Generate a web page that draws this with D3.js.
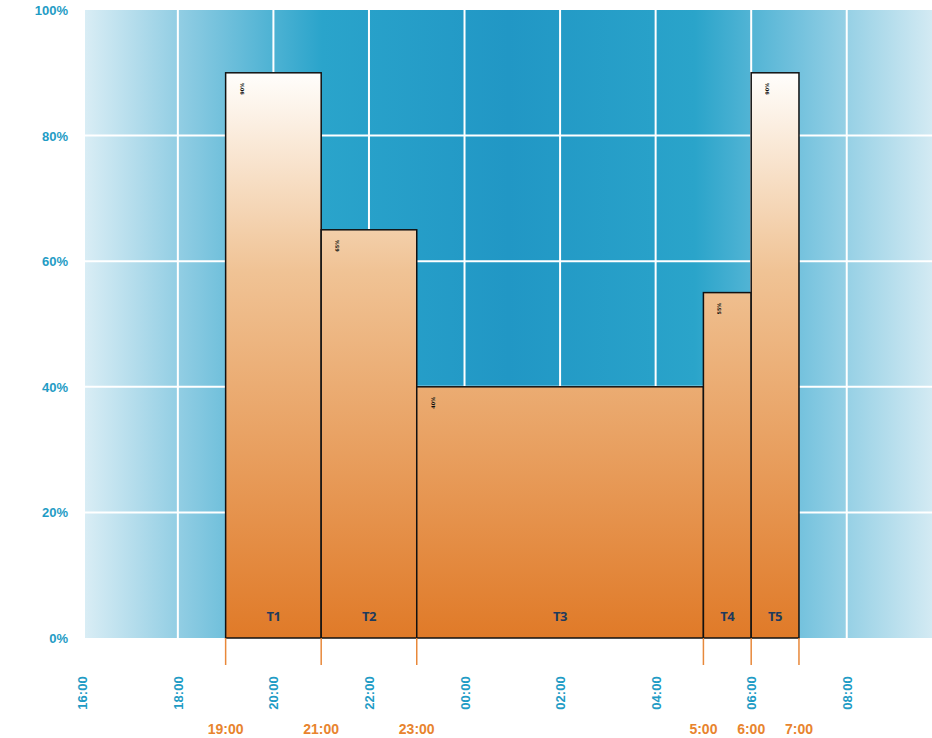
<!DOCTYPE html>
<html>
<head>
<meta charset="utf-8">
<script src="https://cdn.jsdelivr.net/npm/d3@7"></script>
<style>
	body { margin: 0; background: #fff; }
	svg { display: block; }
</style>
</head>
<body>
<div id="chart"></div>
<script>
"use strict";

// chart data
var periods = ["T1", "T2", "T3", "T4", "T5"];
var startTimes = ["19:00", "21:00", "23:00", "5:00", "6:00"];
var endTimes = ["21:00", "23:00", "5:00", "6:00", "7:00"];
var values = [0.90, 0.65, 0.40, 0.55, 0.90];
var hourTicks = ["16:00", "18:00", "20:00", "22:00", "00:00", "02:00", "04:00", "06:00", "08:00"];
var boundaryLabels = ["19:00", "21:00", "23:00", "5:00", "6:00", "7:00"];
var yTicks = [0, 0.2, 0.4, 0.6, 0.8, 1.0];

var width = 932, height = 738;
var plot = {left: 85, right: 932, top: 10, bottom: 638};

// times before 12:00 belong to the next day
function toDate(s) {
	var p = s.split(":").map(Number);
	var day = p[0] < 12 ? 2 : 1;
	return new Date(2020, 0, day, p[0], p[1]);
}

var svg = d3.select("#chart").append("svg")
	.attr("width", width)
	.attr("height", height);

// 16:00 sits just left of the plot edge, the right edge runs past 9:45
var x = d3.scaleTime()
	.domain([toDate("16:00"), toDate("10:00")])
	.range([82.3, 942.3]);

var y = d3.scaleLinear()
	.domain([0, 1])
	.range([plot.bottom, plot.top]);

var defs = svg.append("defs");

// background gradient, light at the edges
var bg = defs.append("linearGradient")
	.attr("id", "bgGrad")
	.attr("x1", "0").attr("x2", "1").attr("y1", "0").attr("y2", "0");
[[0, "#d9edf5"], [0.12, "#8ccbe2"], [0.28, "#2aa4cb"], [0.5, "#2197c5"], [0.72, "#2aa4ca"], [0.84, "#72c1dd"], [1, "#d3eaf3"]]
	.forEach(function (s) {
		bg.append("stop").attr("offset", s[0]).attr("stop-color", s[1]);
	});

// bar gradient in user space: white at the top, orange at the base
var barGrad = defs.append("linearGradient")
	.attr("id", "barGrad")
	.attr("gradientUnits", "userSpaceOnUse")
	.attr("x1", 0).attr("x2", 0)
	.attr("y1", y(0.9)).attr("y2", y(0));
barGrad.append("stop").attr("offset", 0).attr("stop-color", "#fffefc");
barGrad.append("stop").attr("offset", 0.35).attr("stop-color", "#f0c395");
barGrad.append("stop").attr("offset", 1).attr("stop-color", "#e07a28");

svg.append("rect")
	.attr("x", plot.left)
	.attr("y", plot.top)
	.attr("width", plot.right - plot.left)
	.attr("height", plot.bottom - plot.top)
	.style("fill", "url(#bgGrad)");

// grid lines
svg.append("g").selectAll("line").data(yTicks.slice(1, -1))
	.enter().append("line")
	.attr("x1", plot.left).attr("x2", plot.right)
	.attr("y1", d => y(d)).attr("y2", d => y(d))
	.style("stroke", "white").style("stroke-width", 2);

svg.append("g").selectAll("line").data(hourTicks.slice(1))
	.enter().append("line")
	.attr("x1", d => x(toDate(d))).attr("x2", d => x(toDate(d)))
	.attr("y1", plot.top).attr("y2", plot.bottom)
	.style("stroke", "white").style("stroke-width", 2);

// y axis labels
svg.append("g").selectAll("text").data(yTicks)
	.enter().append("text")
	.attr("x", 68)
	.attr("y", d => y(d) + 5)
	.style("text-anchor", "end")
	.style("font-family", "Liberation Sans")
	.style("font-weight", "bold")
	.style("font-size", "13px")
	.style("fill", "#1f9cc5")
	.text(d => d3.format(".0%")(d));

// bars
var bars = svg.append("g").selectAll("g").data(periods)
	.enter().append("g");

bars.append("rect")
	.attr("x", (d, i) => x(toDate(startTimes[i])))
	.attr("y", (d, i) => y(values[i]))
	.attr("width", (d, i) => x(toDate(endTimes[i])) - x(toDate(startTimes[i])))
	.attr("height", (d, i) => y(0) - y(values[i]))
	.style("fill", "url(#barGrad)")
	.style("stroke", "#111")
	.style("stroke-width", 1.5);

bars.append("text")
	.attr("x", (d, i) => (x(toDate(startTimes[i])) + x(toDate(endTimes[i]))) / 2)
	.attr("y", y(0) - 17)
	.style("text-anchor", "middle")
	.style("font-family", "Open Sans")
	.style("font-weight", "bold")
	.style("font-size", "13px")
	.style("letter-spacing", "-0.5px")
	.style("fill", "#1e3a5c")
	.text(d => d);

// small value labels at the top left of each bar
bars.append("text")
	.attr("transform", (d, i) => "translate(" + (x(toDate(startTimes[i])) + 18) + "," + (y(values[i]) + 16) + ") rotate(-90)")
	.style("text-anchor", "middle")
	.style("font-family", "DejaVu Sans")
	.style("font-weight", "bold")
	.style("font-size", "5px")
	.style("fill", "#111")
	.text((d, i) => d3.format(".0%")(values[i]));

// boundary ticks and labels
svg.append("g").selectAll("line").data(boundaryLabels)
	.enter().append("line")
	.attr("x1", d => x(toDate(d))).attr("x2", d => x(toDate(d)))
	.attr("y1", y(0)).attr("y2", y(0) + 27)
	.style("stroke", "#e8883a").style("stroke-width", 1.5);

svg.append("g").selectAll("text").data(boundaryLabels)
	.enter().append("text")
	.attr("x", d => x(toDate(d)))
	.attr("y", 734)
	.style("text-anchor", "middle")
	.style("font-family", "Liberation Sans")
	.style("font-weight", "bold")
	.style("font-size", "14px")
	.style("fill", "#e8842e")
	.text(d => d);

// hour labels, rotated
svg.append("g").selectAll("text").data(hourTicks)
	.enter().append("text")
	.attr("transform", d => "translate(" + (x(toDate(d)) + 5) + ",693) rotate(-90)")
	.style("text-anchor", "middle")
	.style("font-family", "Liberation Sans")
	.style("font-weight", "bold")
	.style("font-size", "13px")
	.style("fill", "#1f9cc5")
	.text(d => d);
</script>
</body>
</html>
